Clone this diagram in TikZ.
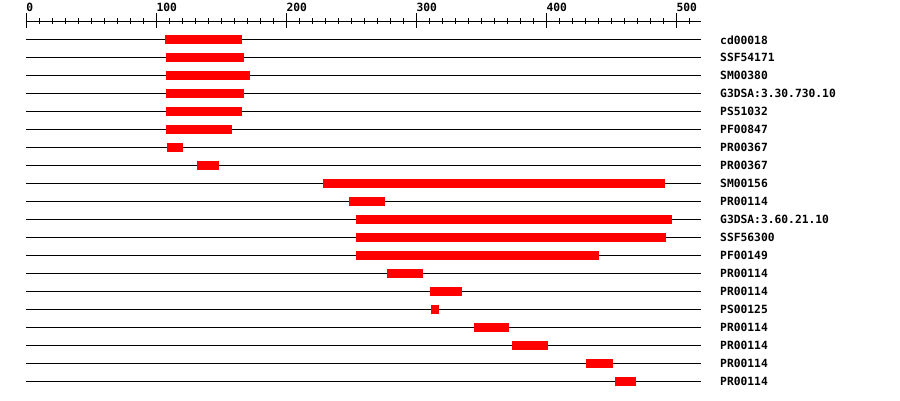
\documentclass[tikz,border=0pt]{standalone}
\usepackage{fontspec}
\newfontfamily\monofnt{DejaVu Sans Mono}
\definecolor{barred}{RGB}{255,0,0}
\tikzset{
  rowline/.style={line width=1pt, black},
  barbox/.style={fill=barred, draw=none},
  lbl/.style={font=\monofnt\bfseries\fontsize{11.3}{12}\selectfont, anchor=west, inner sep=0pt},
  rulerlbl/.style={font=\monofnt\bfseries\fontsize{11.3}{12}\selectfont, anchor=base west, inner sep=0pt},
  tickline/.style={line width=1pt, black}
}
\begin{document}
\begin{tikzpicture}[x=1pt,y=-1pt]
\useasboundingbox (0,0) rectangle (900,400);
% ruler
\coordinate (r0) at (26.3,21);
\coordinate (r1) at (701,21);
\draw[tickline] (r0) -- (r1);
\foreach \i in {0,...,51} {
  \pgfmathsetmacro{\xx}{26.3+13*\i}
  \pgfmathtruncatemacro{\m}{mod(\i,10)}
  \ifnum\m=0
    \draw[tickline] (\xx,13) -- (\xx,28);
  \else
    \draw[tickline] (\xx,18) -- (\xx,24);
  \fi
}
\foreach \v/\n in {0/t0,100/t1,200/t2,300/t3,400/t4,500/t5} {
  \node[rulerlbl] (\n) at ({26.3+1.3*\v},11.3) {\v};
}
% rows
\foreach \r/\a/\b/\t [count=\k] in {
  1/165/242/cd00018,
  2/166/244/SSF54171,
  3/166/250/SM00380,
  4/166/244/G3DSA:3.30.730.10,
  5/166/242/PS51032,
  6/166/232/PF00847,
  7/167/183/PR00367,
  8/197/219/PR00367,
  9/323/665/SM00156,
  10/349/385/PR00114,
  11/356/672/G3DSA:3.60.21.10,
  12/356/666/SSF56300,
  13/356/599/PF00149,
  14/387/423/PR00114,
  15/430/462/PR00114,
  16/431/439/PS00125,
  17/474/509/PR00114,
  18/512/548/PR00114,
  19/586/613/PR00114,
  20/615/636/PR00114} {
  \pgfmathsetmacro{\yy}{39.3+18*(\r-1)}
  \coordinate (ls\k) at (26.3,\yy);
  \coordinate (le\k) at (701,\yy);
  \draw[rowline] (ls\k) -- (le\k);
  \fill[barbox] (\a,\yy-4.4) rectangle (\b,\yy+4.6);
  \node[lbl] (lab\k) at (720,\yy+0.5) {\t};
}
\end{tikzpicture}
\end{document}
